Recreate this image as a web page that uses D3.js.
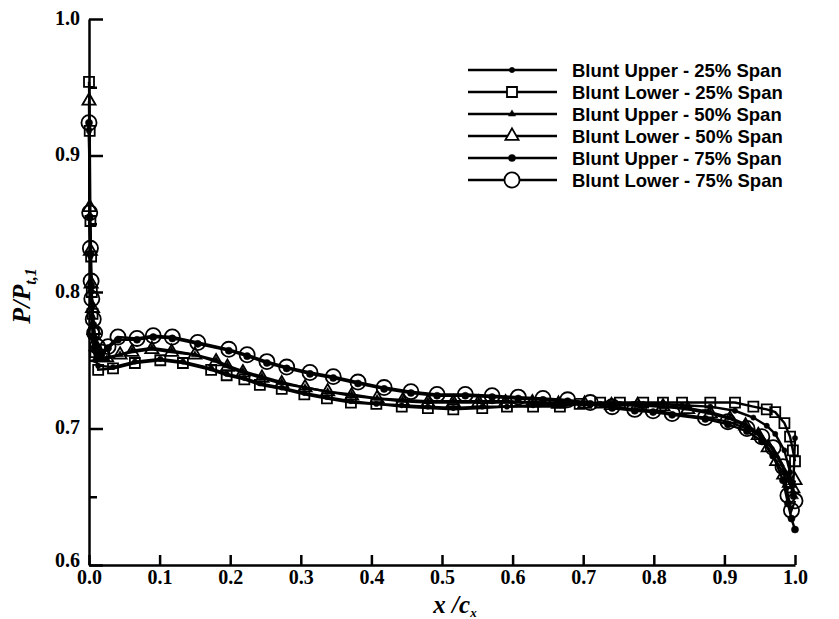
<!DOCTYPE html>
<html>
<head>
<meta charset="utf-8">
<script src="https://cdn.jsdelivr.net/npm/d3@7"></script>
<style>
  body { margin: 0; background: #fff; }
  .tick text { font-family: "Liberation Serif", "DejaVu Serif", serif; font-weight: bold; font-size: 20px; fill: #000; }
</style>
</head>
<body>
<div id="chart"></div>
<script>
// ---- data (x/c, P/Pt) ----
const xs25 = [0, 0.001, 0.002, 0.003, 0.004, 0.005, 0.007, 0.009, 0.013,
  0.034, 0.065, 0.101, 0.133, 0.173, 0.195, 0.220, 0.242,
  0.273, 0.305, 0.337, 0.371, 0.407, 0.443, 0.480, 0.516,
  0.557, 0.592, 0.629, 0.667, 0.695, 0.724, 0.752, 0.785,
  0.813, 0.840, 0.880, 0.915, 0.941, 0.960, 0.972, 0.985,
  0.993, 0.997, 1.0];
const lower25 = [0.954, 0.918, 0.852, 0.826, 0.800, 0.784, 0.770, 0.756, 0.743,
  0.744, 0.748, 0.750, 0.748, 0.743, 0.739, 0.736, 0.732,
  0.729, 0.725, 0.722, 0.719, 0.718, 0.716, 0.715, 0.714,
  0.715, 0.716, 0.716, 0.716, 0.718, 0.719, 0.719, 0.719,
  0.719, 0.719, 0.719, 0.719, 0.716, 0.714, 0.712, 0.704,
  0.694, 0.684, 0.676];
const upper25 = [0.918, 0.855, 0.826, 0.800, 0.782, 0.768, 0.758, 0.750, 0.746,
  0.745, 0.749, 0.751, 0.749, 0.744, 0.740, 0.737, 0.733,
  0.730, 0.726, 0.723, 0.720, 0.718, 0.717, 0.716, 0.715,
  0.716, 0.716, 0.717, 0.717, 0.718, 0.718, 0.718, 0.718,
  0.718, 0.717, 0.716, 0.713, 0.708, 0.702, 0.696, 0.684,
  0.668, 0.650, 0.693];

const xs50 = [0, 0.001, 0.002, 0.003, 0.005, 0.007, 0.010, 0.015, 0.025,
  0.044, 0.061, 0.089, 0.117, 0.150, 0.180, 0.196, 0.218,
  0.245, 0.273, 0.306, 0.338, 0.372, 0.408, 0.444, 0.480,
  0.516, 0.552, 0.590, 0.628, 0.665, 0.702, 0.740, 0.777,
  0.813, 0.848, 0.880, 0.908, 0.930, 0.948, 0.962, 0.974,
  0.984, 0.992, 0.997, 1.0];
const lower50 = [0.940, 0.862, 0.830, 0.806, 0.788, 0.772, 0.760, 0.752, 0.752,
  0.754, 0.756, 0.758, 0.756, 0.754, 0.749, 0.745, 0.741,
  0.737, 0.733, 0.730, 0.727, 0.724, 0.722, 0.720, 0.719,
  0.719, 0.719, 0.719, 0.719, 0.718, 0.718, 0.717, 0.717,
  0.716, 0.714, 0.711, 0.707, 0.702, 0.695, 0.686, 0.676,
  0.666, 0.660, 0.656, 0.662];
const upper50 = [0.920, 0.856, 0.828, 0.802, 0.782, 0.768, 0.757, 0.751, 0.751,
  0.754, 0.757, 0.759, 0.757, 0.754, 0.750, 0.746, 0.742,
  0.738, 0.734, 0.730, 0.727, 0.725, 0.722, 0.721, 0.720,
  0.720, 0.720, 0.720, 0.719, 0.719, 0.718, 0.718, 0.717,
  0.716, 0.715, 0.712, 0.708, 0.703, 0.697, 0.689, 0.680,
  0.670, 0.662, 0.654, 0.650];

const xs75 = [0, 0.001, 0.002, 0.003, 0.004, 0.006, 0.008, 0.012, 0.018,
  0.027, 0.041, 0.068, 0.091, 0.118, 0.154, 0.198, 0.224,
  0.252, 0.280, 0.313, 0.346, 0.381, 0.418, 0.456, 0.493,
  0.533, 0.571, 0.608, 0.643, 0.678, 0.710, 0.741, 0.773,
  0.799, 0.826, 0.873, 0.905, 0.932, 0.953, 0.969, 0.983,
  0.990, 0.995, 1.0];
const lower75 = [0.924, 0.858, 0.832, 0.808, 0.795, 0.780, 0.770, 0.760, 0.756,
  0.760, 0.767, 0.766, 0.768, 0.767, 0.763, 0.758, 0.754,
  0.749, 0.745, 0.741, 0.738, 0.734, 0.730, 0.727, 0.725,
  0.725, 0.724, 0.723, 0.722, 0.721, 0.719, 0.716, 0.714,
  0.713, 0.711, 0.708, 0.705, 0.700, 0.694, 0.686, 0.672,
  0.651, 0.640, 0.647];
const upper75 = [0.924, 0.855, 0.828, 0.805, 0.790, 0.776, 0.766, 0.758, 0.755,
  0.759, 0.765, 0.765, 0.767, 0.766, 0.762, 0.757, 0.753,
  0.748, 0.744, 0.740, 0.737, 0.733, 0.729, 0.726, 0.724,
  0.724, 0.723, 0.722, 0.721, 0.720, 0.718, 0.715, 0.713,
  0.712, 0.710, 0.707, 0.703, 0.698, 0.691, 0.680, 0.662,
  0.645, 0.634, 0.626];

const seriesNames = ["Blunt Upper - 25% Span", "Blunt Lower - 25% Span",
  "Blunt Upper - 50% Span", "Blunt Lower - 50% Span",
  "Blunt Upper - 75% Span", "Blunt Lower - 75% Span"];
const xTicks = [0, 0.1, 0.2, 0.3, 0.4, 0.5, 0.6, 0.7, 0.8, 0.9, 1.0];
const yTicks = [0.6, 0.7, 0.8, 0.9, 1.0];
const yMinorTicks = [0.65, 0.75, 0.85, 0.95];

// ---- layout ----
const W = 839, H = 619;
const svg = d3.select("#chart").append("svg")
    .attr("width", W)
    .attr("height", H);

const x = d3.scaleLinear().domain([0, 1]).range([89, 795]);
const y = d3.scaleLinear().domain([0.6, 1.0]).range([565, 19]);

// marker styles for each series (in same order as the names)
const styles = [
  { sym: d3.symbolCircle,   size: 22,  fill: "#000", open: false },
  { sym: d3.symbolSquare,   size: 100, fill: "none", open: true },
  { sym: d3.symbolTriangle, size: 22,  fill: "#000", open: false },
  { sym: d3.symbolTriangle, size: 75,  fill: "none", open: true },
  { sym: d3.symbolCircle,   size: 40,  fill: "#000", open: false },
  { sym: d3.symbolCircle,   size: 180, fill: "none", open: true }
];

const series = [
  d3.zip(xs25, upper25), d3.zip(xs25, lower25),
  d3.zip(xs50, upper50), d3.zip(xs50, lower50),
  d3.zip(xs75, upper75), d3.zip(xs75, lower75)
];

// ---- axes ----
const xAxis = svg.append("g")
    .attr("transform", `translate(0,${y(0.6)})`)
    .call(d3.axisBottom(x).tickValues(xTicks).tickSize(-10).tickSizeOuter(0)
      .tickPadding(5).tickFormat(d3.format(".1f")));

const yAxis = svg.append("g")
    .attr("transform", `translate(${x(0)},0)`)
    .call(d3.axisLeft(y).tickValues(yTicks).tickSize(-14).tickSizeOuter(0)
      .tickPadding(9).tickFormat(d3.format(".1f")));

svg.append("g")
    .attr("transform", `translate(${x(0)},0)`)
    .call(d3.axisLeft(y).tickValues(yMinorTicks).tickSize(-8).tickSizeOuter(0).tickFormat(""))
    .call(g => g.select(".domain").remove());

svg.selectAll(".domain").attr("stroke", "#000").attr("stroke-width", 2.5);
svg.selectAll(".tick line").attr("stroke", "#000").attr("stroke-width", 2.5);
yAxis.selectAll(".tick text").attr("dy", "0.25em");
yAxis.selectAll(".tick").filter(d => d === 0.6).select("text").attr("dy", "0.05em");

// ---- lines and markers ----
const line = d3.line()
    .x(d => x(d[0]))
    .y(d => y(d[1]));

series.forEach((pts, i) => {
  svg.append("path")
      .datum(pts)
      .attr("fill", "none")
      .attr("stroke", "#000")
      .attr("stroke-width", 2.4)
      .attr("d", line);
});

series.forEach((pts, i) => {
  const st = styles[i];
  svg.append("g").selectAll("path")
    .data(pts)
    .enter().append("path")
      .attr("transform", d => `translate(${x(d[0])},${y(d[1])})`)
      .attr("d", d3.symbol().type(st.sym).size(st.size))
      .attr("fill", st.fill)
      .attr("stroke", "#000")
      .attr("stroke-width", st.open ? 1.8 : 0.5);
});

// ---- legend ----
const legend = svg.selectAll(".legend")
    .data(seriesNames)
    .enter().append("g")
    .attr("class", "legend")
    .attr("transform", (d, i) => `translate(0,${70 + i * 22})`);

legend.append("line")
    .attr("x1", 468).attr("x2", 557)
    .attr("stroke", "#000").attr("stroke-width", 2.5);

legend.append("path")
    .attr("transform", "translate(512,0)")
    .attr("d", (d, i) => d3.symbol().type(styles[i].sym).size(styles[i].size)())
    .attr("fill", (d, i) => styles[i].open ? "#fff" : "#000")
    .attr("stroke", "#000")
    .attr("stroke-width", (d, i) => styles[i].open ? 1.8 : 0.5);

legend.append("text")
    .attr("x", 572)
    .attr("dy", "0.36em")
    .style("font-family", "'Liberation Sans', Arial, sans-serif")
    .style("font-weight", "bold")
    .style("font-size", "18.5px")
    .text(d => d);

// ---- axis titles ----
const ytitle = svg.append("text")
    .attr("transform", "translate(30,296) rotate(-90)")
    .attr("text-anchor", "middle")
    .style("font-family", "'Liberation Serif', serif")
    .style("font-weight", "bold")
    .style("font-style", "italic")
    .style("font-size", "26px");
ytitle.append("tspan").text("P/P");
ytitle.append("tspan").attr("dy", 6).style("font-size", "16px").text("t,1");

const xtitle = svg.append("text")
    .attr("x", 455)
    .attr("y", 613)
    .attr("text-anchor", "middle")
    .style("font-family", "'Liberation Serif', serif")
    .style("font-weight", "bold")
    .style("font-style", "italic")
    .style("font-size", "25px");
xtitle.append("tspan").text("x /c");
xtitle.append("tspan").attr("dy", 4).style("font-size", "13px").text("x");
</script>
</body>
</html>
